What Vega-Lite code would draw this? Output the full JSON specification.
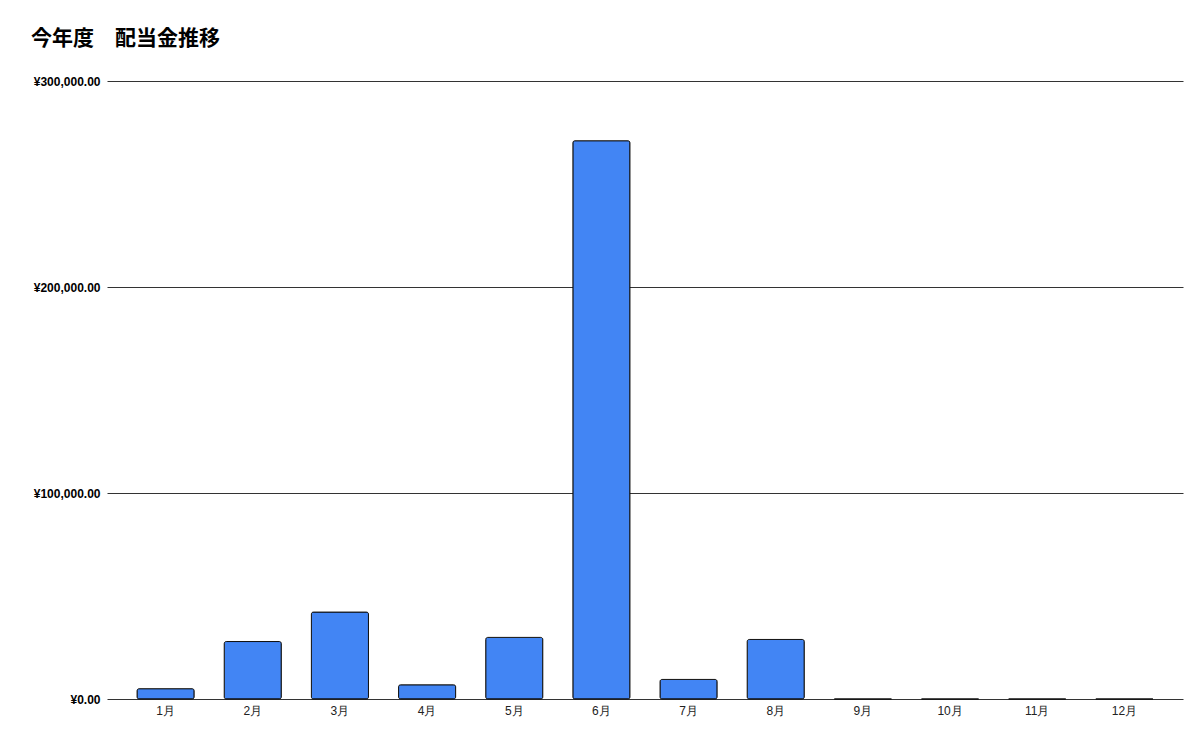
{
  "$schema": "https://vega.github.io/schema/vega-lite/v6.json",
  "autosize": "none",
  "padding": {"left": 107, "top": 81, "right": 17, "bottom": 35},
  "width": 1076,
  "height": 618,
  "background": "white",
  "title": {
    "text": "今年度　配当金推移",
    "anchor": "start",
    "frame": "group",
    "dx": -76,
    "offset": 26,
    "font": "Noto Sans CJK JP",
    "fontSize": 21,
    "fontWeight": "bold",
    "color": "#000000"
  },
  "data": {
    "values": [
      {"month": "1月", "amount": 5000},
      {"month": "2月", "amount": 27900},
      {"month": "3月", "amount": 42200},
      {"month": "4月", "amount": 6900},
      {"month": "5月", "amount": 29900},
      {"month": "6月", "amount": 271000},
      {"month": "7月", "amount": 9500},
      {"month": "8月", "amount": 28900},
      {"month": "9月", "amount": 0},
      {"month": "10月", "amount": 0},
      {"month": "11月", "amount": 0},
      {"month": "12月", "amount": 0}
    ]
  },
  "mark": {
    "type": "bar",
    "color": "#4285F4",
    "stroke": "#111111",
    "strokeWidth": 1,
    "cornerRadius": 2
  },
  "encoding": {
    "x": {
      "field": "month",
      "type": "nominal",
      "sort": null,
      "title": null,
      "scale": {"paddingInner": 0.345, "paddingOuter": 0.345},
      "axis": {
        "labelAngle": 0,
        "labelFont": "Liberation Sans",
        "labelFontSize": 12,
        "labelColor": "#222222",
        "labelPadding": 6,
        "ticks": false,
        "domain": false
      }
    },
    "y": {
      "field": "amount",
      "type": "quantitative",
      "title": null,
      "scale": {"domain": [0, 300000]},
      "axis": {
        "values": [0, 100000, 200000, 300000],
        "labelExpr": "'¥' + format(datum.value, ',.2f')",
        "labelFont": "Liberation Sans",
        "labelFontSize": 12,
        "labelFontWeight": "bold",
        "labelColor": "#000000",
        "labelPadding": 7,
        "ticks": false,
        "domain": false,
        "grid": true,
        "gridColor": "#333333",
        "gridWidth": 1
      }
    }
  },
  "config": {
    "view": {"stroke": null}
  }
}
